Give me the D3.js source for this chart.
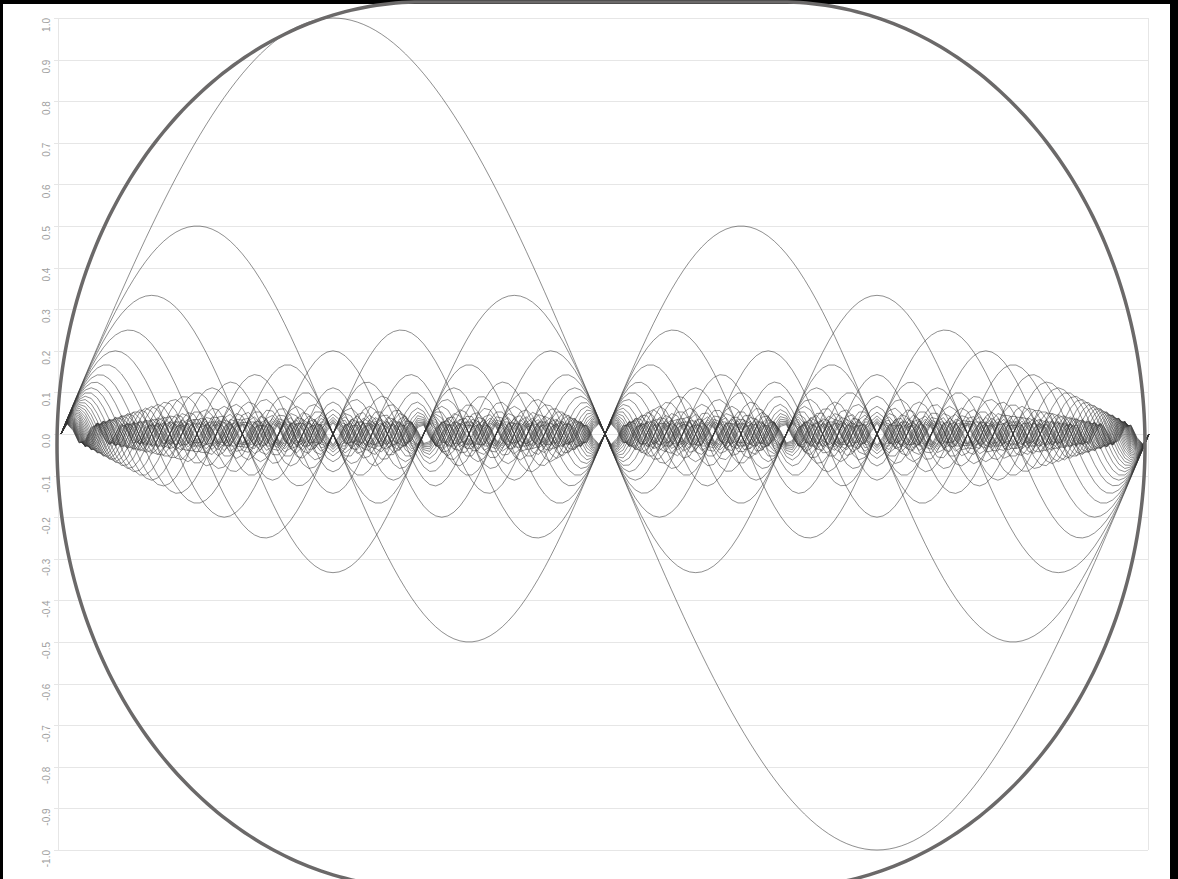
<!DOCTYPE html>
<html lang="en">
<head>
    <meta charset="UTF-8">
    <title>Harmonic series</title>
    <script src="https://d3js.org/d3.v7.min.js"></script>
    <style>
        body {
            margin: 0;
            background: #000;
        }

        svg {
            display: block;
        }

        .grid line {
            stroke: #e6e6e6;
            stroke-width: 1px;
        }

        .tick-label {
            font-family: "Liberation Sans", Arial, sans-serif;
            font-size: 10px;
            fill: #a0a0a0;
        }

        .wave {
            fill: none;
            stroke: #333;
            stroke-opacity: 0.55;
            stroke-width: 1px;
        }

        .frame {
            fill: none;
            stroke: #6b6969;
            stroke-width: 3.5px;
        }
    </style>
</head>
<body>

<svg width="1178" height="879"></svg>

<script>
    // harmonic order of each curve; its peak height is 1 / order
    const harmonics = d3.range(1, 41);
    // one full turn, sampled every 2 degrees
    const turnDegrees = 360;
    const sampleStep = 2;
    // y axis ticks
    const yTicks = [1.0, 0.9, 0.8, 0.7, 0.6, 0.5, 0.4, 0.3, 0.2, 0.1, 0.0,
        -0.1, -0.2, -0.3, -0.4, -0.5, -0.6, -0.7, -0.8, -0.9, -1.0];

    const svg = d3.select("svg");

    // white page inside the black border
    svg.append("rect")
        .attr("x", 3)
        .attr("y", 4)
        .attr("width", 1167)
        .attr("height", 879)
        .attr("fill", "#fff");

    const x = d3.scaleLinear().domain([0, turnDegrees]).range([61, 1149]);
    const y = d3.scaleLinear().domain([-1, 1]).range([850, 18]);

    // horizontal grid + plot edges
    const grid = svg.append("g").attr("class", "grid");
    grid.selectAll("line.h")
        .data(yTicks)
        .enter().append("line")
        .attr("class", "h")
        .attr("x1", 54)
        .attr("x2", 1148)
        .attr("y1", d => Math.round(y(d)) + 0.5)
        .attr("y2", d => Math.round(y(d)) + 0.5);

    grid.selectAll("line.v")
        .data([58, 1148])
        .enter().append("line")
        .attr("class", "v")
        .attr("x1", d => d + 0.5)
        .attr("x2", d => d + 0.5)
        .attr("y1", y(1))
        .attr("y2", y(-1));

    // rotated tick labels, reading bottom to top, ending at the grid line
    svg.append("g")
        .selectAll("text")
        .data(yTicks)
        .enter().append("text")
        .attr("class", "tick-label")
        .attr("text-anchor", "end")
        .attr("transform", d => `translate(50,${y(d)}) rotate(-90)`)
        .text(d => d.toFixed(1));

    // sample angles
    const samples = d3.range(0, turnDegrees + sampleStep, sampleStep);

    const line = d3.line()
        .x(d => x(d[0]))
        .y(d => y(d[1]));

    svg.append("g")
        .selectAll("path")
        .data(harmonics)
        .enter().append("path")
        .attr("class", "wave")
        .attr("d", n => line(samples.map(a => [a, Math.sin(n * a * Math.PI / 180) / n])));

    // rounded outline drawn over the chart: flat top/bottom, elliptic corners
    const cx = 601, cy = 445, halfW = 544, halfH = 443, flat = 180;
    const rx = halfW - flat;
    const steps = 90;
    const pts = [];
    for (let i = 0; i <= steps; i++) {
        const t = Math.PI / 2 - (Math.PI / 2) * (i / steps);
        pts.push([cx + flat + rx * Math.cos(t), cy - halfH * Math.sin(t)]);
    }
    for (let i = 0; i <= steps; i++) {
        const t = (Math.PI / 2) * (i / steps);
        pts.push([cx + flat + rx * Math.cos(t), cy + halfH * Math.sin(t)]);
    }
    for (let i = 0; i <= steps; i++) {
        const t = Math.PI / 2 - (Math.PI / 2) * (i / steps);
        pts.push([cx - flat - rx * Math.cos(t), cy + halfH * Math.sin(t)]);
    }
    for (let i = 0; i <= steps; i++) {
        const t = (Math.PI / 2) * (i / steps);
        pts.push([cx - flat - rx * Math.cos(t), cy - halfH * Math.sin(t)]);
    }

    svg.append("path")
        .attr("class", "frame")
        .attr("d", d3.line().curve(d3.curveLinearClosed)(pts));
</script>

</body>
</html>
